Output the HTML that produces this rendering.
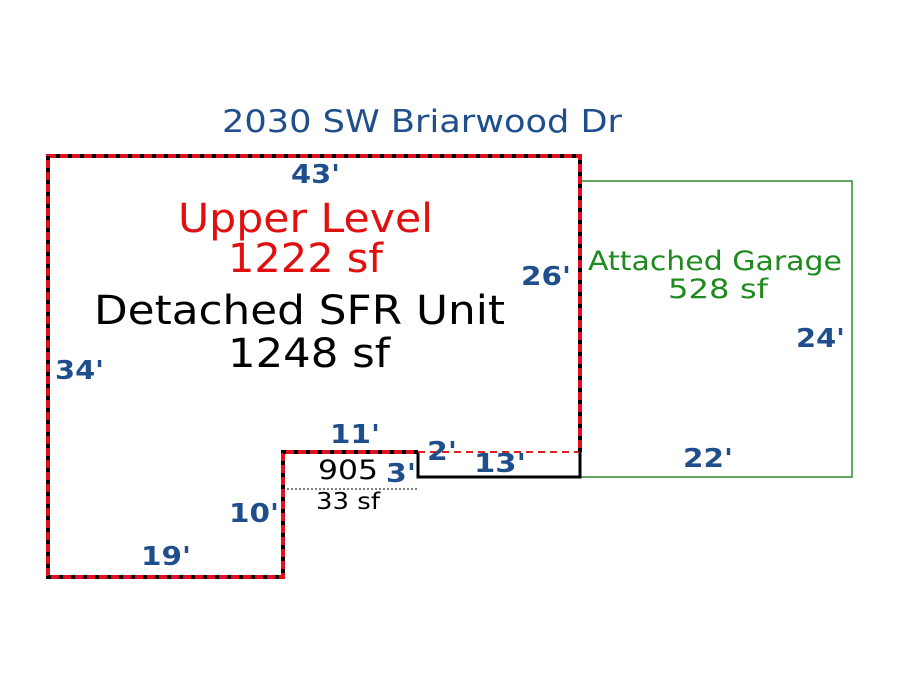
<!DOCTYPE html>
<html><head><style>body{margin:0;background:#fff}svg{display:block}</style></head><body>
<svg width="900" height="675" viewBox="0 0 900 675" xmlns="http://www.w3.org/2000/svg" font-family="'DejaVu Sans', 'Liberation Sans', sans-serif">
<rect width="900" height="675" fill="#fff"/>
<polyline points="580,181 852,181 852,477 580,477" fill="none" stroke="#2e8b2e" stroke-width="1.5"/>
<polyline points="580,452 580,477 418,477 418,452" fill="none" stroke="#000" stroke-width="3"/>
<line x1="283" y1="489" x2="418" y2="489" stroke="#000" stroke-width="1" stroke-dasharray="2 2"/>
<line x1="418" y1="452" x2="580" y2="452" stroke="#e02020" stroke-width="2" stroke-dasharray="7 5"/>
<polyline points="580,452 580,156 48,156 48,577 283,577 283,452 418,452" fill="none" stroke="#e01020" stroke-width="4"/>
<polyline points="580,452 580,156 48,156 48,577 283,577 283,452 418,452" fill="none" stroke="#000" stroke-width="4" stroke-dasharray="4 8"/>
<g lengthAdjust="spacingAndGlyphs">
<text x="222" y="132" font-size="31" fill="#1f4e8c" textLength="400" lengthAdjust="spacingAndGlyphs">2030 SW Briarwood Dr</text>
<text x="178" y="232" font-size="40" fill="#e01010" textLength="255" lengthAdjust="spacingAndGlyphs">Upper Level</text>
<text x="228" y="272" font-size="40" fill="#e01010" textLength="155" lengthAdjust="spacingAndGlyphs">1222 sf</text>
<text x="94" y="324" font-size="40" fill="#000" textLength="411" lengthAdjust="spacingAndGlyphs">Detached SFR Unit</text>
<text x="228" y="367" font-size="40" fill="#000" textLength="162" lengthAdjust="spacingAndGlyphs">1248 sf</text>
<text x="588" y="270" font-size="27" fill="#1e8a1e" textLength="254" lengthAdjust="spacingAndGlyphs">Attached Garage</text>
<text x="668" y="298" font-size="27" fill="#1e8a1e" textLength="100" lengthAdjust="spacingAndGlyphs">528 sf</text>
<text x="318" y="479" font-size="27" fill="#000" textLength="60" lengthAdjust="spacingAndGlyphs">905</text>
<text x="316" y="509" font-size="23" fill="#000" textLength="64" lengthAdjust="spacingAndGlyphs">33 sf</text>
</g>
<g font-size="26" font-weight="bold" fill="#1f4e8c">
<text x="291" y="183" textLength="49" lengthAdjust="spacingAndGlyphs">43'</text>
<text x="521" y="285" textLength="50" lengthAdjust="spacingAndGlyphs">26'</text>
<text x="55" y="379" textLength="49" lengthAdjust="spacingAndGlyphs">34'</text>
<text x="796" y="347" textLength="49" lengthAdjust="spacingAndGlyphs">24'</text>
<text x="330" y="443" textLength="50" lengthAdjust="spacingAndGlyphs">11'</text>
<text x="427" y="460" textLength="30" lengthAdjust="spacingAndGlyphs">2'</text>
<text x="474" y="472" textLength="52" lengthAdjust="spacingAndGlyphs">13'</text>
<text x="386" y="482" textLength="30" lengthAdjust="spacingAndGlyphs">3'</text>
<text x="683" y="467" textLength="50" lengthAdjust="spacingAndGlyphs">22'</text>
<text x="229" y="522" textLength="50" lengthAdjust="spacingAndGlyphs">10'</text>
<text x="141" y="565" textLength="50" lengthAdjust="spacingAndGlyphs">19'</text>
</g>
</svg>
</body></html>
